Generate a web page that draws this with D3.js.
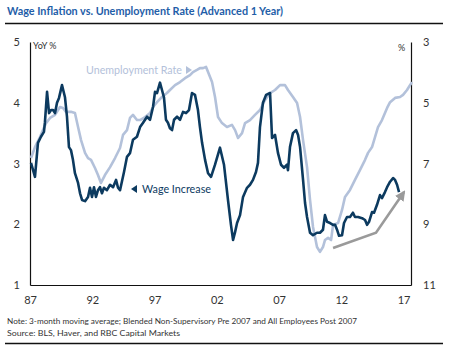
<!DOCTYPE html>
<html>
<head>
<meta charset="utf-8">
<script src="https://cdn.jsdelivr.net/npm/d3@7"></script>
<style>
  body { margin: 0; background: #fff; }
  svg { display: block; font-family: Lato, "Open Sans", sans-serif; }
</style>
</head>
<body>
<div id="chart"></div>
<script>
// wage increase, YoY % (left axis)
const wageYears = [1987.08,1987.40,1987.64,1987.88,1988.12,1988.20,1988.37,1988.53,1988.69,1988.85,
  1989.01,1989.17,1989.33,1989.57,1989.81,1989.97,1990.13,1990.29,1990.45,1990.61,1990.86,1991.02,
  1991.18,1991.42,1991.66,1991.82,1991.98,1992.14,1992.30,1992.46,1992.62,1992.78,1992.94,1993.18,
  1993.43,1993.67,1993.91,1994.07,1994.23,1994.55,1994.79,1995.03,1995.27,1995.59,1995.84,1996.08,
  1996.40,1996.64,1996.88,1997.04,1997.20,1997.44,1997.60,1997.76,1997.92,1998.08,1998.24,1998.41,
  1998.57,1998.81,1999.05,1999.29,1999.53,1999.77,2000.01,2000.25,2000.49,2000.65,2000.82,2001.06,
  2001.30,2001.54,2001.86,2002.26,2002.58,2002.90,2003.14,2003.31,2003.47,2003.63,2003.87,2004.11,
  2004.43,2004.67,2004.91,2005.15,2005.31,2005.47,2005.71,2005.96,2006.28,2006.44,2006.68,2006.92,
  2007.16,2007.40,2007.64,2007.72,2007.88,2008.12,2008.37,2008.53,2008.69,2008.93,2009.09,2009.25,
  2009.49,2009.73,2010.05,2010.29,2010.53,2010.69,2010.86,2011.10,2011.34,2011.50,2011.66,2011.82,
  2012.06,2012.22,2012.46,2012.70,2012.94,2013.10,2013.35,2013.67,2013.91,2014.07,2014.23,2014.47,
  2014.63,2014.87,2015.11,2015.27,2015.51,2015.68,2015.92,2016.16,2016.32,2016.48,2016.64];
const wageValues = [3.01,2.78,3.34,3.44,3.52,3.68,4.18,3.83,3.88,3.88,
  3.83,4.00,4.08,4.29,4.09,3.77,3.27,3.22,3.06,2.84,2.68,2.51,
  2.40,2.38,2.45,2.60,2.45,2.61,2.45,2.56,2.61,2.51,2.60,2.56,
  2.65,2.61,2.73,2.60,2.56,2.86,3.11,3.17,3.39,3.44,3.60,3.67,
  3.77,3.72,3.93,4.18,4.16,4.33,4.21,4.09,3.72,3.67,3.58,3.55,
  3.72,3.77,3.72,3.85,3.83,3.88,4.16,4.13,3.88,3.60,3.34,3.06,
  2.84,2.78,2.98,3.26,2.98,2.40,1.99,1.74,1.87,2.02,2.15,2.45,
  2.60,2.65,2.73,2.86,3.01,3.60,4.00,4.13,4.16,3.42,3.47,3.17,
  2.98,2.93,2.98,2.89,3.27,3.50,3.55,3.47,3.27,2.73,2.35,2.12,
  1.86,1.82,1.86,1.86,1.91,2.15,2.04,2.02,1.99,1.99,1.91,1.81,
  1.82,2.02,2.12,2.12,2.19,2.12,2.12,2.10,2.07,1.99,2.04,2.20,
  2.19,2.32,2.48,2.43,2.53,2.61,2.70,2.76,2.73,2.65,2.53];

// unemployment rate advanced 1 year, % (right axis, inverted)
const unempYears = [1987.08,1987.40,1987.80,1988.04,1988.29,1988.61,1989.01,1989.41,1989.65,1989.89,
  1990.29,1990.61,1990.86,1991.10,1991.42,1991.66,1991.90,1992.22,1992.46,1992.70,1993.02,1993.43,
  1993.83,1994.23,1994.47,1994.79,1995.03,1995.27,1995.59,1995.84,1996.24,1996.64,1996.88,1997.20,
  1997.60,1998.00,1998.24,1998.65,1999.05,1999.45,1999.85,2000.09,2000.41,2000.65,2000.90,2001.14,
  2001.30,2001.62,2001.86,2002.10,2002.42,2002.82,2003.22,2003.47,2003.71,2004.03,2004.27,2004.67,
  2005.07,2005.47,2005.88,2006.28,2006.68,2007.08,2007.48,2007.72,2008.12,2008.45,2008.69,2008.93,
  2009.25,2009.49,2009.73,2010.05,2010.29,2010.53,2010.69,2010.94,2011.18,2011.34,2011.74,2012.06,
  2012.30,2012.70,2013.10,2013.51,2013.91,2014.15,2014.47,2014.71,2014.95,2015.27,2015.68,2015.92,
  2016.32,2016.72,2016.96,2017.28,2017.52,2017.68];
const unempValues = [6.82,6.46,6.13,5.90,5.67,5.50,5.40,5.14,5.17,5.30,
  5.30,5.34,5.80,6.23,6.65,6.82,6.88,7.15,7.38,7.64,7.38,7.12,
  6.82,6.49,6.06,5.90,5.50,5.40,5.57,5.57,5.47,5.34,5.14,4.98,
  4.81,4.68,4.58,4.42,4.32,4.19,4.09,3.99,3.92,3.86,3.86,3.82,
  3.99,4.32,4.81,5.47,5.67,5.80,5.73,5.90,6.16,6.00,5.67,5.57,
  5.40,5.24,4.91,4.68,4.58,4.42,4.42,4.58,4.81,5.01,5.47,6.23,
  7.12,8.20,9.09,9.75,9.91,9.75,9.52,9.45,9.52,9.02,8.96,8.53,
  8.10,7.87,7.54,7.21,6.88,6.65,6.46,6.13,5.80,5.57,5.17,4.98,
  4.84,4.81,4.74,4.58,4.42,4.32];

// trend arrow annotation (left axis units)
const arrowYears = [2011.34, 2014.79, 2017.04];
const arrowValues = [1.61, 1.86, 2.53];

const xTicks = [1987, 1992, 1997, 2002, 2007, 2012, 2017];
const xTickLabels = ["87", "92", "97", "02", "07", "12", "17"];
const leftTicks = [1, 2, 3, 4, 5];
const rightTicks = [3, 5, 7, 9, 11];

const W = 464, H = 351;
const plot = { left: 30, right: 411, top: 42, bottom: 285 };
const navy = "#0c3a5f", light = "#b3c1da";

const svg = d3.select("#chart").append("svg")
  .attr("width", W).attr("height", H);

const x = d3.scaleLinear().domain([1987, 2017.6]).range([plot.left, plot.right]);
const yL = d3.scaleLinear().domain([1, 5]).range([plot.bottom, plot.top]);
const yR = d3.scaleLinear().domain([3, 11]).range([plot.top, plot.bottom]);

// title and rules
svg.append("text")
  .attr("x", 7).attr("y", 15)
  .attr("fill", "#1f5ea8")
  .attr("font-size", 12).attr("font-weight", "bold")
  .attr("textLength", 276).attr("lengthAdjust", "spacingAndGlyphs")
  .text("Wage Inflation vs. Unemployment Rate (Advanced 1 Year)");
svg.append("line").attr("x1", 5).attr("x2", 443).attr("y1", 23.5).attr("y2", 23.5)
  .attr("stroke", "#111").attr("stroke-width", 1.3);
svg.append("line").attr("x1", 5).attr("x2", 443).attr("y1", 343.5).attr("y2", 343.5)
  .attr("stroke", "#111").attr("stroke-width", 1.3);

// axes
const axL = svg.append("g").attr("transform", `translate(${plot.left},0)`)
  .call(d3.axisLeft(yL).tickValues(leftTicks).tickSize(0).tickPadding(10).tickFormat(d3.format("d")));
const axR = svg.append("g").attr("transform", `translate(${plot.right},0)`)
  .call(d3.axisRight(yR).tickValues(rightTicks).tickSize(0).tickPadding(12).tickFormat(d3.format("d")));
const axB = svg.append("g").attr("transform", `translate(0,${plot.bottom})`)
  .call(d3.axisBottom(x).tickValues(xTicks).tickSize(0).tickPadding(11)
    .tickFormat((d, i) => xTickLabels[i]));
[axL, axR, axB].forEach(a => {
  a.select(".domain").attr("stroke", "#111").attr("stroke-width", 1.2);
  a.selectAll("text").attr("font-size", 11).attr("fill", "#333").attr("font-family", "Lato, sans-serif");
});

svg.append("text").attr("x", 33).attr("y", 49).attr("font-size", 9).attr("fill", "#333").text("YoY %");
svg.append("text").attr("x", 398).attr("y", 51).attr("font-size", 9).attr("fill", "#333").text("%");

// lines
const lineL = d3.line().x(d => x(d[0])).y(d => yL(d[1]));
const lineR = d3.line().x(d => x(d[0])).y(d => yR(d[1]));

svg.append("path")
  .datum(d3.zip(unempYears, unempValues))
  .attr("d", lineR).attr("fill", "none")
  .attr("stroke", light).attr("stroke-width", 2.6).attr("stroke-linejoin", "round");
svg.append("path")
  .datum(d3.zip(wageYears, wageValues))
  .attr("d", lineL).attr("fill", "none")
  .attr("stroke", navy).attr("stroke-width", 2.6).attr("stroke-linejoin", "round");

// trend arrow
svg.append("defs").append("marker")
  .attr("id", "ah").attr("viewBox", "0 0 10 10").attr("refX", 8).attr("refY", 5)
  .attr("markerWidth", 4).attr("markerHeight", 4).attr("orient", "auto")
  .append("path").attr("d", "M0,0 L10,5 L0,10 Z").attr("fill", "#9a9a9a");
svg.append("path")
  .datum(d3.zip(arrowYears, arrowValues))
  .attr("d", lineL).attr("fill", "none")
  .attr("stroke", "#9a9a9a").attr("stroke-width", 2.6)
  .attr("marker-end", "url(#ah)");

// series labels
svg.append("text").attr("x", 86).attr("y", 74).attr("font-size", 11).attr("fill", light)
  .attr("textLength", 96).attr("lengthAdjust", "spacingAndGlyphs").text("Unemployment Rate");
svg.append("path").attr("d", "M186,66 L192,70 L186,74 Z").attr("fill", light);
svg.append("path").attr("d", "M137,185 L131,189 L137,193 Z").attr("fill", navy);
svg.append("text").attr("x", 142).attr("y", 193).attr("font-size", 11).attr("fill", navy)
  .attr("textLength", 69).attr("lengthAdjust", "spacingAndGlyphs").text("Wage Increase");

// notes
svg.append("text").attr("x", 7).attr("y", 324).attr("font-size", 8).attr("fill", "#333")
  .attr("textLength", 350).attr("lengthAdjust", "spacingAndGlyphs")
  .text("Note: 3-month moving average; Blended Non-Supervisory Pre 2007 and All Employees Post 2007");
svg.append("text").attr("x", 7).attr("y", 336).attr("font-size", 8).attr("fill", "#333")
  .attr("textLength", 173).attr("lengthAdjust", "spacingAndGlyphs")
  .text("Source: BLS, Haver, and RBC Capital Markets");
</script>
</body>
</html>
